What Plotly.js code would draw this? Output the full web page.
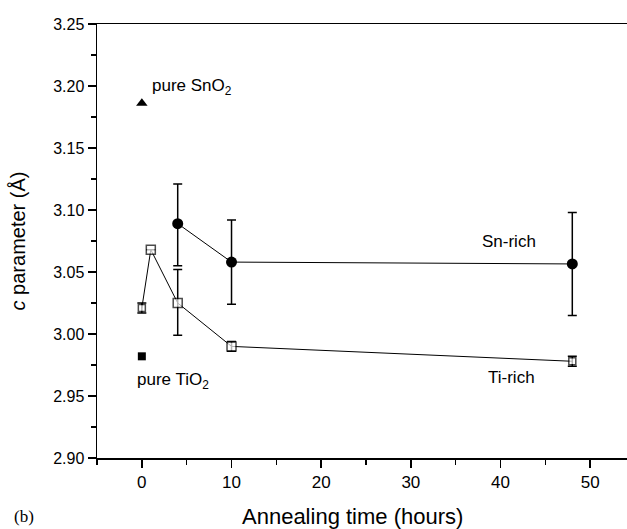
<!DOCTYPE html>
<html>
<head>
<meta charset="utf-8">
<script src="https://cdn.plot.ly/plotly-3.0.1.min.js"></script>
<style>html,body{margin:0;padding:0;background:#fff;}#chart{width:627px;height:529px;}</style>
</head>
<body>
<div id="chart"></div>
<script>
// Data
var snTime = [4, 10, 48];
var snC = [3.089, 3.058, 3.0565];
var snErrPlus = [0.032, 0.034, 0.0415];
var snErrMinus = [0.034, 0.034, 0.0415];

var tiTime = [0, 1, 4, 10, 48];
var tiC = [3.021, 3.068, 3.025, 2.990, 2.978];
var tiErrPlus = [0.004, 0, 0.027, 0.004, 0.004];
var tiErrMinus = [0.004, 0, 0.026, 0.004, 0.004];

var pureSnO2Time = [0];
var pureSnO2C = [3.186];
var pureTiO2Time = [0];
var pureTiO2C = [2.982];

var yTicks = [2.90, 2.95, 3.00, 3.05, 3.10, 3.15, 3.20, 3.25];
var xTicks = [0, 10, 20, 30, 40, 50];

var font = 'Liberation Sans, Arial, sans-serif';

var traces = [
  // lines + error bars underneath
  {
    x: snTime, y: snC, type: 'scatter', mode: 'lines',
    line: {color: '#000', width: 1},
    error_y: {type: 'data', symmetric: false, array: snErrPlus, arrayminus: snErrMinus,
              color: '#000', thickness: 1.5, width: 4.5},
    showlegend: false
  },
  {
    x: tiTime, y: tiC, type: 'scatter', mode: 'lines',
    line: {color: '#000', width: 1},
    error_y: {type: 'data', symmetric: false, array: tiErrPlus, arrayminus: tiErrMinus,
              color: '#000', thickness: 1.5, width: 4.5},
    showlegend: false
  },
  // markers on top
  {
    x: snTime, y: snC, type: 'scatter', mode: 'markers',
    marker: {symbol: 'circle', size: 11, color: '#000'},
    showlegend: false
  },
  {
    x: tiTime, y: tiC, type: 'scatter', mode: 'markers',
    marker: {symbol: 'square', size: [7, 9, 9, 9, 7], color: '#fff', line: {color: '#000', width: 1.5}},
    showlegend: false
  },
  {
    x: pureSnO2Time, y: pureSnO2C, type: 'scatter', mode: 'markers',
    marker: {symbol: 'triangle-up', size: 10, color: '#000'},
    showlegend: false
  },
  {
    x: pureTiO2Time, y: pureTiO2C, type: 'scatter', mode: 'markers',
    marker: {symbol: 'square', size: 8, color: '#000'},
    showlegend: false
  }
];

var layout = {
  width: 627, height: 529,
  margin: {l: 97, r: 0, t: 24, b: 71},
  paper_bgcolor: '#fff', plot_bgcolor: '#fff',
  font: {family: font, color: '#000', size: 16},
  xaxis: {
    range: [-5, 54.1], tickvals: xTicks, ticktext: xTicks.map(String),
    showgrid: false, zeroline: false,
    showline: true, linecolor: '#000', linewidth: 1.5, mirror: true,
    ticks: 'outside', ticklen: 8, tickwidth: 1.5, tickcolor: '#000',
    minor: {dtick: 5, tick0: -5, ticks: 'outside', ticklen: 5, tickwidth: 1.5, tickcolor: '#000', showgrid: false},
    tickfont: {family: font, size: 17, color: '#000'}
  },
  yaxis: {
    range: [2.90, 3.25], tickvals: yTicks, ticktext: yTicks.map(function(v){return v.toFixed(2);}),
    showgrid: false, zeroline: false,
    showline: true, linecolor: '#000', linewidth: 1.5, mirror: false,
    ticks: 'outside', ticklen: 8, tickwidth: 1.5, tickcolor: '#000',
    minor: {dtick: 0.025, tick0: 2.90, ticks: 'outside', ticklen: 5, tickwidth: 1.5, tickcolor: '#000', showgrid: false},
    tickfont: {family: font, size: 16, color: '#000'},
    title: {text: '<i>c</i> parameter (Å)', font: {family: font, size: 20, color: '#000'}, standoff: 22}
  },
  annotations: [
    {x: 0.9, y: 3.1995, xref: 'x', yref: 'y', text: 'pure SnO<sub>2</sub>', showarrow: false,
     xanchor: 'left', yanchor: 'middle', font: {family: font, size: 17, color: '#000'}},
    {x: -0.78, y: 2.962, xref: 'x', yref: 'y', text: 'pure TiO<sub>2</sub>', showarrow: false,
     xanchor: 'left', yanchor: 'middle', font: {family: font, size: 17, color: '#000'}},
    {x: 40.9, y: 3.075, xref: 'x', yref: 'y', text: 'Sn-rich', showarrow: false,
     xanchor: 'center', yanchor: 'middle', font: {family: font, size: 17, color: '#000'}},
    {x: 41.2, y: 2.965, xref: 'x', yref: 'y', text: 'Ti-rich', showarrow: false,
     xanchor: 'center', yanchor: 'middle', font: {family: font, size: 17, color: '#000'}},
    {x: 0, y: 0, xref: 'paper', yref: 'paper', text: 'Annealing time (hours)', showarrow: false,
     xanchor: 'center', yanchor: 'middle', font: {family: font, size: 22, color: '#000'}},
    {x: 0, y: 0, xref: 'paper', yref: 'paper', text: '(b)', showarrow: false,
     xanchor: 'left', yanchor: 'middle', font: {family: 'Liberation Serif, Times New Roman, serif', size: 17, color: '#000'}}
  ]
};

// place the two bottom texts at their pixel positions, expressed in paper coordinates
(function(){
  var l = layout.margin.l, r = layout.margin.r, t = layout.margin.t, b = layout.margin.b;
  var pw = layout.width - l - r, ph = layout.height - t - b;
  var a1 = layout.annotations[4], a2 = layout.annotations[5];
  a1.x = (352.5 - l) / pw; a1.y = (layout.height - b - 516.7) / ph;
  a2.x = (12 - l) / pw; a2.y = (layout.height - b - 516) / ph;
})();

Plotly.newPlot('chart', traces, layout, {displayModeBar: false, staticPlot: true});
</script>
</body>
</html>
